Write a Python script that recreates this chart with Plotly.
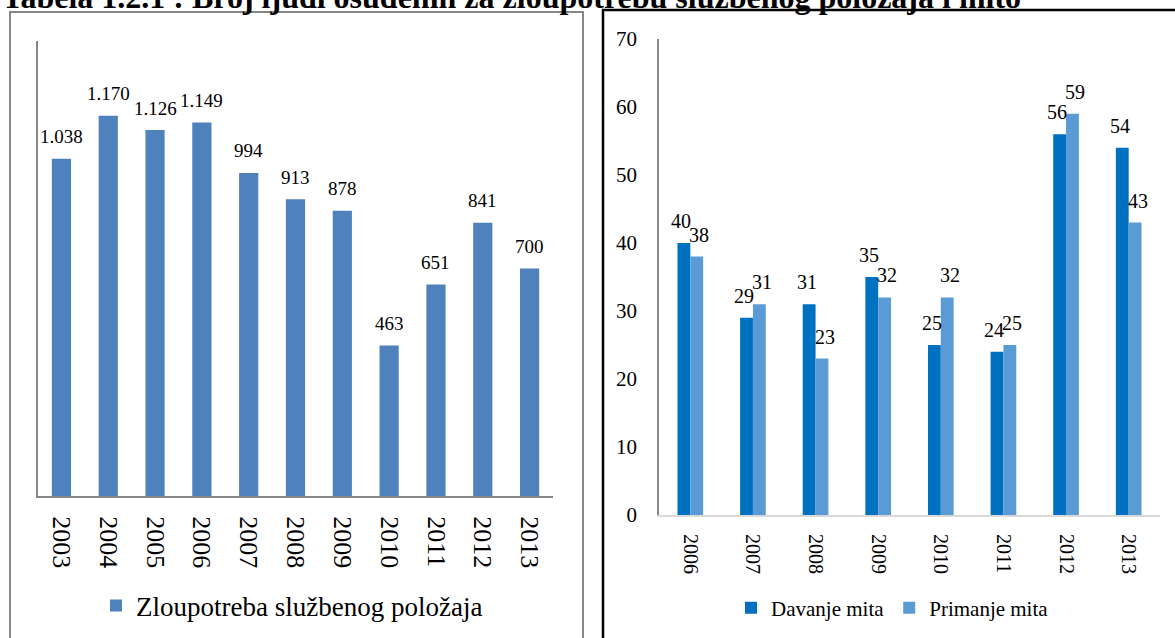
import plotly.graph_objects as go

W, H = 1175, 638

title_text = "Tabela 1.2.1 : Broj ljudi osuđenih za zloupotrebu službenog položaja i mito"

years_left = ["2003", "2004", "2005", "2006", "2007", "2008", "2009", "2010", "2011", "2012", "2013"]
zloupotreba = [1038, 1170, 1126, 1149, 994, 913, 878, 463, 651, 841, 700]
zloupotreba_labels = ["1.038", "1.170", "1.126", "1.149", "994", "913", "878", "463", "651", "841", "700"]

years_right = ["2006", "2007", "2008", "2009", "2010", "2011", "2012", "2013"]
davanje = [40, 29, 31, 35, 25, 24, 56, 54]
primanje = [38, 31, 23, 32, 32, 25, 59, 43]
right_ticks = [0, 10, 20, 30, 40, 50, 60, 70]

FONT = "Liberation Serif"
C_LEFT = "#4F81BD"
C_DAV = "#0070C0"
C_PRI = "#5B9BD5"


def px_x(p):
    return p / W


def px_y(p):
    return 1 - p / H


fig = go.Figure()

fig.add_trace(go.Bar(
    x=years_left, y=zloupotreba, name="Zloupotreba službenog položaja",
    marker=dict(color=C_LEFT, line=dict(width=0)),
    xaxis="x", yaxis="y", legend="legend",
))
fig.add_trace(go.Bar(
    x=years_right, y=davanje, name="Davanje mita",
    marker=dict(color=C_DAV, line=dict(width=0)),
    xaxis="x2", yaxis="y2", legend="legend2",
))
fig.add_trace(go.Bar(
    x=years_right, y=primanje, name="Primanje mita",
    marker=dict(color=C_PRI, line=dict(width=0)),
    xaxis="x2", yaxis="y2", legend="legend2",
))

annotations = []
for i, (v, lab) in enumerate(zip(zloupotreba, zloupotreba_labels)):
    annotations.append(dict(x=i, y=v, xref="x", yref="y", text=lab, showarrow=False,
                            xanchor="center", yanchor="middle", yshift=22,
                            font=dict(family=FONT, size=19, color="black")))
for i, v in enumerate(davanje):
    annotations.append(dict(x=i, y=v, xref="x2", yref="y2", text=str(v), showarrow=False,
                            xanchor="center", yanchor="middle", yshift=22, xshift=-9,
                            font=dict(family=FONT, size=20, color="black")))
for i, v in enumerate(primanje):
    annotations.append(dict(x=i, y=v, xref="x2", yref="y2", text=str(v), showarrow=False,
                            xanchor="center", yanchor="middle", yshift=22, xshift=9,
                            font=dict(family=FONT, size=20, color="black")))

annotations.append(dict(x=0, y=px_y(-3), xref="paper", yref="paper", xanchor="left", yanchor="middle",
                        text="<b>" + title_text + "</b>", showarrow=False,
                        font=dict(family=FONT, size=32, color="black")))

shapes = [
    dict(type="rect", xref="paper", yref="paper", x0=px_x(10), x1=px_x(583), y0=px_y(660), y1=px_y(12),
         line=dict(color="#868686", width=2), fillcolor="rgba(0,0,0,0)", layer="below"),
    dict(type="rect", xref="paper", yref="paper", x0=px_x(603), x1=px_x(1200), y0=px_y(660), y1=px_y(10),
         line=dict(color="black", width=2.5), fillcolor="rgba(0,0,0,0)", layer="below"),
]

fig.update_layout(
    template="none",
    width=W, height=H, autosize=False,
    margin=dict(l=0, r=0, t=0, b=0, pad=0, autoexpand=False),
    paper_bgcolor="white", plot_bgcolor="rgba(0,0,0,0)",
    font=dict(family=FONT, color="black", size=20),
    barmode="group",
    annotations=annotations,
    shapes=shapes,
    xaxis=dict(domain=[px_x(38), px_x(553)], type="category", showline=True, linecolor="#868686", linewidth=2,
               ticks="", tickangle=90, tickfont=dict(family=FONT, size=26, color="black"), ticklabelstandoff=13,
               showgrid=False, zeroline=False, anchor="y", range=[-0.5, 10.5], automargin=False),
    yaxis=dict(domain=[px_y(496), px_y(41)], range=[0, 1400], showline=True, linecolor="#868686", linewidth=2,
               showticklabels=False, ticks="", showgrid=False, zeroline=False, anchor="x", automargin=False),
    xaxis2=dict(domain=[px_x(659), px_x(1160)], type="category", showline=True, linecolor="#D9D9D9", linewidth=2,
                ticks="", tickangle=90, tickfont=dict(family=FONT, size=20, color="black"), ticklabelstandoff=13,
                showgrid=False, zeroline=False, anchor="y2", range=[-0.5, 7.5], automargin=False),
    yaxis2=dict(domain=[px_y(515), px_y(39)], range=[0, 70], tickvals=right_ticks, showline=True,
                linecolor="#868686", linewidth=1.5, ticks="", tickfont=dict(family=FONT, size=21, color="black"),
                ticklabelstandoff=16, showgrid=False, zeroline=False, anchor="x2", automargin=False),
    bargap=0.59,
    legend=dict(x=px_x(96), y=px_y(606), xanchor="left", yanchor="middle", orientation="h",
                font=dict(family=FONT, size=27, color="black"), bgcolor="rgba(0,0,0,0)"),
    legend2=dict(x=px_x(731), y=px_y(608), xanchor="left", yanchor="middle", orientation="h",
                 font=dict(family=FONT, size=21, color="black"), bgcolor="rgba(0,0,0,0)"),
    showlegend=True,
)

fig.write_html("out.html")
